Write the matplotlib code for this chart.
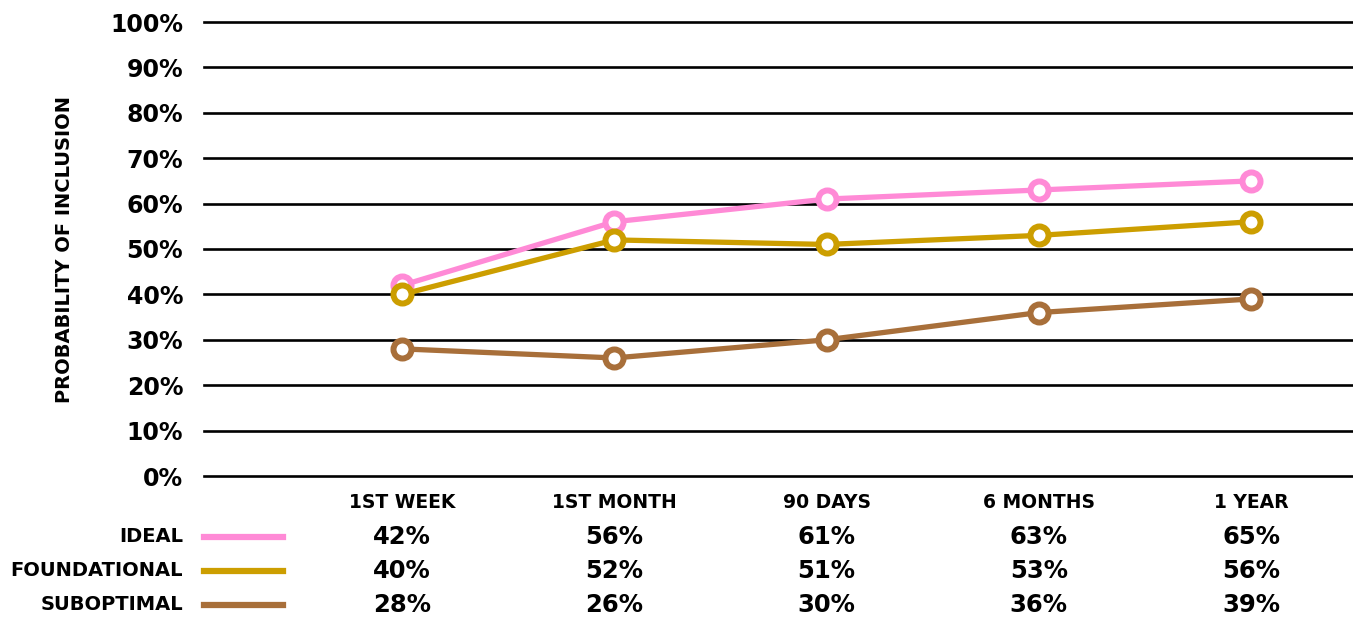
import matplotlib
matplotlib.use('Agg')
import matplotlib.pyplot as plt
import matplotlib.transforms as mtransforms

# Probability of inclusion over time, by onboarding experience
periods = ['1ST WEEK', '1ST MONTH', '90 DAYS', '6 MONTHS', '1 YEAR']
series_names = ['IDEAL', 'FOUNDATIONAL', 'SUBOPTIMAL']
ideal = [42, 56, 61, 63, 65]
foundational = [40, 52, 51, 53, 56]
suboptimal = [28, 26, 30, 36, 39]
y_ticks = list(range(0, 101, 10))

colors = ['#ff8ad6', '#cc9e00', '#a86f3a']
values = [ideal, foundational, suboptimal]

plt.rcParams['font.family'] = ['DejaVu Sans']
plt.rcParams['font.weight'] = 'bold'

W, H = 1353, 617
fig = plt.figure(figsize=(W / 100, H / 100), dpi=100)
ax = fig.add_axes([204 / W, 1 - 476 / H, 1 - 204 / W, (476 - 22) / H])

x = list(range(len(periods)))
for vals, c in zip(values, colors):
    ax.plot(x, vals, color=c, lw=3.8, marker='o', ms=13, mew=4.3,
            mfc='white', mec=c, zorder=3, solid_capstyle='round')

ax.set_xlim(-0.933, 4.48)
ax.set_ylim(0, 100)
ax.set_yticks(y_ticks)
ax.set_yticklabels([f'{t}%' for t in y_ticks], fontsize=17, fontweight='bold')
ax.tick_params(axis='y', length=0, pad=15)
ax.yaxis.grid(True, color='black', lw=1.9, zorder=1)
for gl in ax.get_ygridlines():
    gl.set_clip_on(False)
ax.set_axisbelow(True)

ax.set_xticks(x)
ax.set_xticklabels(periods, fontsize=13.5, fontweight='bold')
ax.tick_params(axis='x', length=0, pad=12)

for s in ax.spines.values():
    s.set_visible(False)

fig.text(65 / W, 1 - 250 / H, 'PROBABILITY OF INCLUSION', rotation=90,
         ha='center', va='center', fontsize=14, fontweight='bold')

# Value table beneath the chart
row_y = [537, 571, 605]
trans = mtransforms.blended_transform_factory(ax.transData, fig.transFigure)
for name, vals, c, ry in zip(series_names, values, colors, row_y):
    yf = 1 - ry / H
    fig.text(183 / W, yf, name, ha='right', va='center', fontsize=14,
             fontweight='bold')
    fig.add_artist(plt.Line2D([204 / W, 283 / W], [yf, yf], color=c, lw=4.5,
                              transform=fig.transFigure))
    for xi, v in zip(x, vals):
        ax.text(xi, yf, f'{v}%', transform=trans, ha='center', va='center',
                fontsize=17.5, fontweight='bold')

fig.savefig('out.png', dpi=100, facecolor='white')
